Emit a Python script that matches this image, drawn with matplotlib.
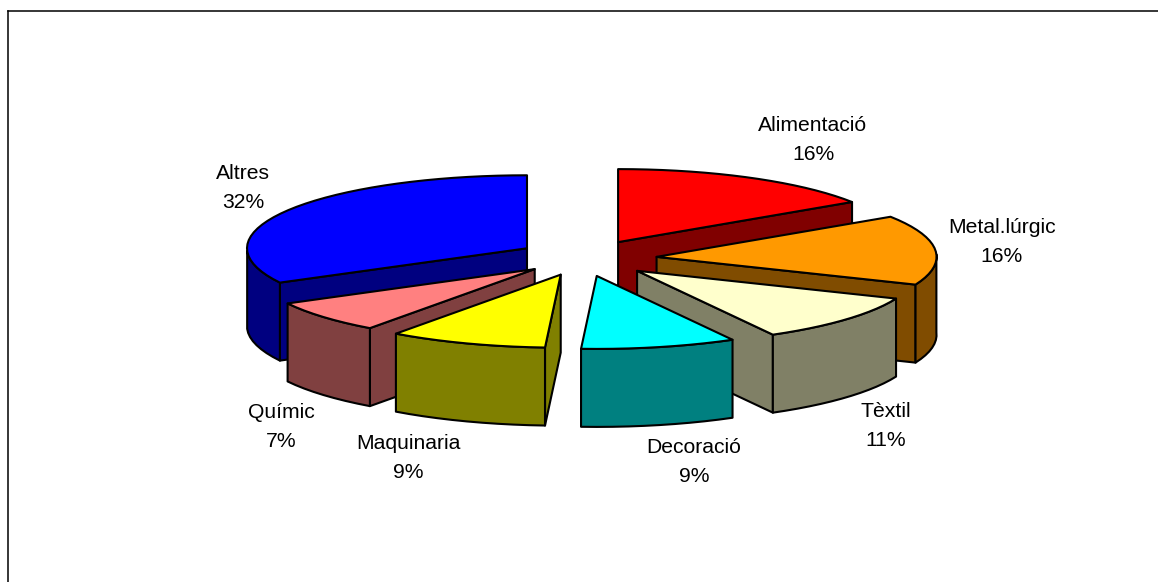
#!/usr/bin/env python

import matplotlib
matplotlib.use("Agg")
import matplotlib.pyplot as plt
import numpy as np

W, H = 1158, 582

categories = ["Alimentació", "Metal.lúrgic", "Tèxtil", "Decoració", "Maquinaria", "Químic", "Altres"]
values = [16, 16, 11, 9, 9, 7, 32]

top_colors = ["#FF0000", "#FF9900", "#FFFFCC", "#00FFFF", "#FFFF00", "#FF8080", "#0000FF"]
side_colors = ["#800000", "#804C00", "#808066", "#008080", "#808000", "#804040", "#000080"]

# pie geometry, in pixels
center = (585, 258)
rx, ry = 280, 73
depth = 78
explode = 68.7
squash = 0.264
front_shift = 4.0
# small sideways correction per slice, the projection isn't a clean ellipse
nudge = [0, 3, 3.5, 1, 3, 4, 0]

draw_order = [0, 6, 1, 5, 2, 4, 3]
label_xy = [(813, 140), (1002, 242), (886, 426), (694, 462), (408, 458), (281, 427), (243, 188)]

# Excel's projection pulls the front of the pie a little to the right
def warp(t):
  return t - front_shift * (1 - np.cos(np.radians(t))) / 2

def project(t, apex):
  a = np.radians(warp(t))
  return apex[0] + rx * np.sin(a), apex[1] - ry * np.cos(a)

def arc(t0, t1, apex):
  n = max(int(abs(t1 - t0) / 3), 1) + 1
  ts = np.linspace(t0, t1, n)
  return np.array([project(t, apex) for t in ts])

def face(ax, pts, color, zorder):
  ax.fill(pts[:, 0], pts[:, 1], facecolor=color, edgecolor="black", linewidth=1.5,
          joinstyle="round", zorder=zorder)

def extrude(pts):
  low = pts[::-1] + np.array([0, depth])
  return np.vstack([pts, low])

def draw_slice(ax, t0, t1, top, side, dx, zorder):
  mid = np.radians((t0 + t1) / 2)
  apex = (center[0] + dx + explode * np.sin(mid), center[1] - explode * squash * np.cos(mid))
  apex_pt = np.array([apex])
  if np.sin(np.radians(t0)) < -1e-6:
    face(ax, extrude(np.vstack([apex_pt, [project(t0, apex)]])), side, zorder)
  if np.sin(np.radians(t1)) > 1e-6:
    face(ax, extrude(np.vstack([apex_pt, [project(t1, apex)]])), side, zorder)
  lo, hi = max(t0, 90), min(t1, 270)
  if hi > lo:
    face(ax, extrude(arc(lo, hi, apex)), side, zorder)
  face(ax, np.vstack([apex_pt, arc(t0, t1, apex)]), top, zorder)

def main():
  fig = plt.figure(figsize=(W / 100.0, H / 100.0), dpi=100)
  ax = fig.add_axes([8.0 / W, 0, (W - 8.0) / W, (H - 11.0) / H])
  ax.set_xlim(8, W)
  ax.set_ylim(H, 11)
  ax.set_xticks([])
  ax.set_yticks([])
  for s in ["right", "bottom"]:
    ax.spines[s].set_visible(False)
  for s in ["left", "top"]:
    ax.spines[s].set_linewidth(1.1)

  edges = np.cumsum([0] + values) * 3.6
  for z, i in enumerate(draw_order):
    draw_slice(ax, edges[i], edges[i + 1], top_colors[i], side_colors[i], nudge[i], z + 2)

  for name, v, (x, y) in zip(categories, values, label_xy):
    ax.text(x, y, "%s\n%d%%" % (name, v), ha="center", va="center", fontsize=15.2,
            family="Liberation Sans", color="black", linespacing=1.66, zorder=20)

  fig.savefig("out.png", dpi=100)

if __name__ == "__main__":
  main()
